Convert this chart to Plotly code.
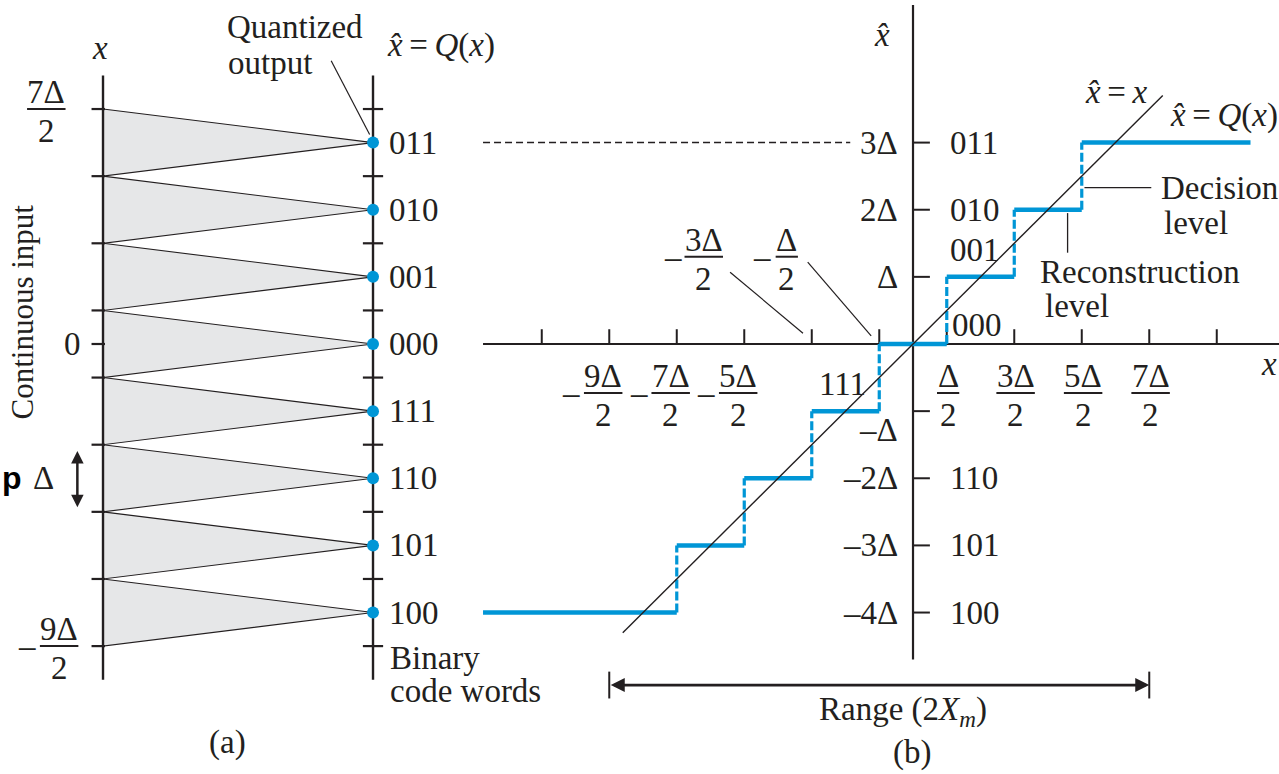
import plotly.graph_objects as go

# ---------------- data (all values in units of the step size Δ) ----------------
recon_levels = [-4, -3, -2, -1, 0, 1, 2, 3]
code_words = ["100", "101", "110", "111", "000", "001", "010", "011"]
decision_levels = [-4.5, -3.5, -2.5, -1.5, -0.5, 0.5, 1.5, 2.5, 3.5]
x_ticks_b = [-5.5, -4.5, -3.5, -2.5, -1.5, -0.5, 0.5, 1.5, 2.5, 3.5, 4.5]
below_vals = [-4.5, -3.5, -2.5, 0.5, 1.5, 2.5, 3.5]
below_nums = ["9Δ", "7Δ", "5Δ", "Δ", "3Δ", "5Δ", "7Δ"]
above_vals = [-1.5, -0.5]
above_nums = ["3Δ", "Δ"]
y_tick_vals = [-4, -3, -2, -1, 1, 2, 3]
y_tick_labels = ["–4Δ", "–3Δ", "–2Δ", "–Δ", "Δ", "2Δ", "3Δ"]
stair_left, stair_right = -6.37, 5.0
diag_lo, diag_hi = -4.3, 3.7
input_axis_a, output_axis_a = -12.0, -8.0
axis_a_lo, axis_a_hi = -5.0, 4.0

INK = "#231f20"
BLUE = "#0096d6"
GRAY = "#e6e7e8"
FONT = "Liberation Serif"
FS = 33
TS = "\u2009"  # thin space

fig = go.Figure()


def seg_trace(xs, ys, width, color=INK, dash="solid"):
    fig.add_trace(go.Scatter(x=xs, y=ys, mode="lines",
                             line=dict(color=color, width=width, dash=dash),
                             hoverinfo="skip", showlegend=False))


def ann(x, y, text, xanchor="center", size=FS, angle=0, family=FONT, color=INK):
    fig.add_annotation(x=x, y=y, text=text, showarrow=False, xanchor=xanchor,
                       yanchor="middle", textangle=angle,
                       font=dict(family=family, size=size, color=color))


def frac(xc, ybar, num, minus=False, minus_dx=None):
    w = 0.33 if len(num) == 1 else 0.57
    ann(xc, ybar + 0.25, num)
    ann(xc, ybar - 0.33, "2")
    fig.add_shape(type="line", x0=xc - w / 2, x1=xc + w / 2, y0=ybar, y1=ybar,
                  line=dict(color=INK, width=2))
    if minus:
        dx = minus_dx if minus_dx is not None else w / 2 + 0.2
        ann(xc - dx, ybar, "–")


# ---------------- panel (a) ----------------
for i, r in enumerate(recon_levels):
    lo, hi = decision_levels[i], decision_levels[i + 1]
    fig.add_trace(go.Scatter(
        x=[input_axis_a, output_axis_a, input_axis_a, input_axis_a],
        y=[hi, r, lo, hi], mode="lines", fill="toself", fillcolor=GRAY,
        line=dict(color=INK, width=1.1), hoverinfo="skip", showlegend=False))

seg_trace([input_axis_a, input_axis_a], [axis_a_lo, axis_a_hi], 2.4)
seg_trace([output_axis_a, output_axis_a], [axis_a_lo, axis_a_hi], 2.4)

tx, ty = [], []
for d in decision_levels + [0]:
    tx += [input_axis_a - 0.17, input_axis_a + 0.03, None]
    ty += [d, d, None]
for d in decision_levels:
    tx += [output_axis_a - 0.15, output_axis_a + 0.15, None]
    ty += [d, d, None]
seg_trace(tx, ty, 2.2)

fig.add_trace(go.Scatter(x=[output_axis_a] * len(recon_levels), y=recon_levels,
                         mode="markers", marker=dict(color=BLUE, size=12),
                         hoverinfo="skip", showlegend=False))
for r, c in zip(recon_levels, code_words):
    ann(output_axis_a + 0.2, r, c, xanchor="left")

ann(input_axis_a - 0.04, 4.41, "<i>x</i>")
ann(-9.16, 4.72, "Quantized")
ann(-9.52, 4.19, "output")
ann(-6.99, 4.45, f"<i>x̂</i>{TS}={TS}<i>Q</i>(<i>x</i>)")
seg_trace([-8.62, -8.05], [4.22, 3.12], 1.2)
ann(-12.45, 0, "0")
ann(-13.2, 0.47, "Continuous input", angle=-90, size=31)
frac(-12.84, decision_levels[-1], "7Δ")
frac(-12.65, decision_levels[0], "9Δ", minus=True, minus_dx=0.47)
ann(-12.88, -2.0, "Δ")
fig.add_annotation(x=-12.38, y=decision_levels[2] + 0.07, ax=-12.38,
                   ay=decision_levels[3] - 0.07,
                   xref="x", yref="y", axref="x", ayref="y", text="",
                   showarrow=True, arrowside="end+start", arrowhead=2,
                   arrowsize=1.0, arrowwidth=2.5, arrowcolor=INK)
ann(-13.52, -2.0, "<b>p</b>", xanchor="left", family="Liberation Sans", size=32,
    color="#000000")
ann(output_axis_a + 0.22, -4.67, "Binary", xanchor="left")
ann(output_axis_a + 0.22, -5.17, "code words", xanchor="left")
ann(-10.15, -5.93, "(a)")

# ---------------- panel (b) ----------------
seg_trace([stair_left, 5.6], [0, 0], 2.2)
seg_trace([0, 0], [-4.7, 5.05], 2.2)
tx, ty = [], []
for v in x_ticks_b:
    tx += [v, v, None]
    ty += [0, 0.22, None]
for v in y_tick_vals:
    tx += [0, 0.25, None]
    ty += [v, v, None]
seg_trace(tx, ty, 2.0)

seg_trace([stair_left, -0.93], [recon_levels[-1]] * 2, 1.5, dash="7px,4px")

hx, hy = [], []
n = len(recon_levels)
for i, r in enumerate(recon_levels):
    left = stair_left if i == 0 else decision_levels[i]
    right = stair_right if i == n - 1 else decision_levels[i + 1]
    hx += [left, right, None]
    hy += [r, r, None]
vx, vy = [], []
for i in range(1, n):
    vx += [decision_levels[i], decision_levels[i], None]
    vy += [recon_levels[i - 1], recon_levels[i], None]
seg_trace(vx, vy, 3.2, color=BLUE, dash="9px,3px")
seg_trace(hx, hy, 4.5, color=BLUE)

seg_trace([diag_lo, diag_hi], [diag_lo, diag_hi], 1.4)

for v, t in zip(y_tick_vals, y_tick_labels):
    ann(-0.2, v if v != -1 else -1.28, t, xanchor="right")

for r, c in zip(recon_levels, code_words):
    if c == "111":
        ann(-1.04, -0.6, c)
    elif c == "000":
        ann(0.55, 0.28, c, xanchor="left")
    elif c == "001":
        ann(0.52, 1.40, c, xanchor="left")
    else:
        ann(0.52, r, c, xanchor="left")

for v, num in zip(below_vals, below_nums):
    if v < 0:
        frac(v - 0.09, -0.73, num, minus=True, minus_dx=0.47)
    else:
        frac(v + 0.02, -0.73, num)
for v, num in zip(above_vals, above_nums):
    frac(v - 1.6 + (0.0 if v < -1 else 0.23), 1.30, num, minus=True,
         minus_dx=0.46 if num != "Δ" else 0.36)
seg_trace([-2.71, -1.63], [1.07, 0.16], 1.2)
seg_trace([-1.56, -0.62], [1.22, 0.12], 1.2)

ann(-0.46, 4.6, "<i>x̂</i>")
ann(5.422, -0.3, "<i>x</i>", xanchor="right")
ann(3.0, 3.75, f"<i>x̂</i>{TS}={TS}<i>x</i>")
ann(4.6, 3.41, f"<i>x̂</i>{TS}={TS}<i>Q</i>(<i>x</i>)")
ann(3.64, 2.33, "Decision", xanchor="left")
ann(3.69, 1.8, "level", xanchor="left")
seg_trace([2.54, 3.53], [2.33, 2.33], 1.3)
ann(1.85, 1.07, "Reconstruction", xanchor="left")
ann(1.93, 0.56, "level", xanchor="left")
seg_trace([2.29, 2.29], [1.95, 1.36], 1.3)

ry = -5.08
fig.add_annotation(x=decision_levels[-1], y=ry, ax=decision_levels[0], ay=ry,
                   xref="x", yref="y", axref="x", ayref="y", text="",
                   showarrow=True, arrowside="end+start", arrowhead=2,
                   arrowsize=1.0, arrowwidth=2.8, arrowcolor=INK)
seg_trace([decision_levels[0], decision_levels[0], None,
           decision_levels[-1], decision_levels[-1]],
          [ry - 0.2, ry + 0.2, None, ry - 0.2, ry + 0.2], 2.0)
ann(-0.15, -5.47, "Range (2<i>X</i><sub><i>m</i></sub>)")
ann(-0.02, -6.08, "(b)")

fig.update_layout(
    width=1279, height=774, margin=dict(l=0, r=0, t=0, b=0),
    paper_bgcolor="white", plot_bgcolor="white", showlegend=False,
    xaxis=dict(range=[-13.526, 5.422], visible=False, fixedrange=True),
    yaxis=dict(range=[-6.405, 5.124], visible=False, fixedrange=True),
)
fig.write_html("out.html", config={"displayModeBar": False})
